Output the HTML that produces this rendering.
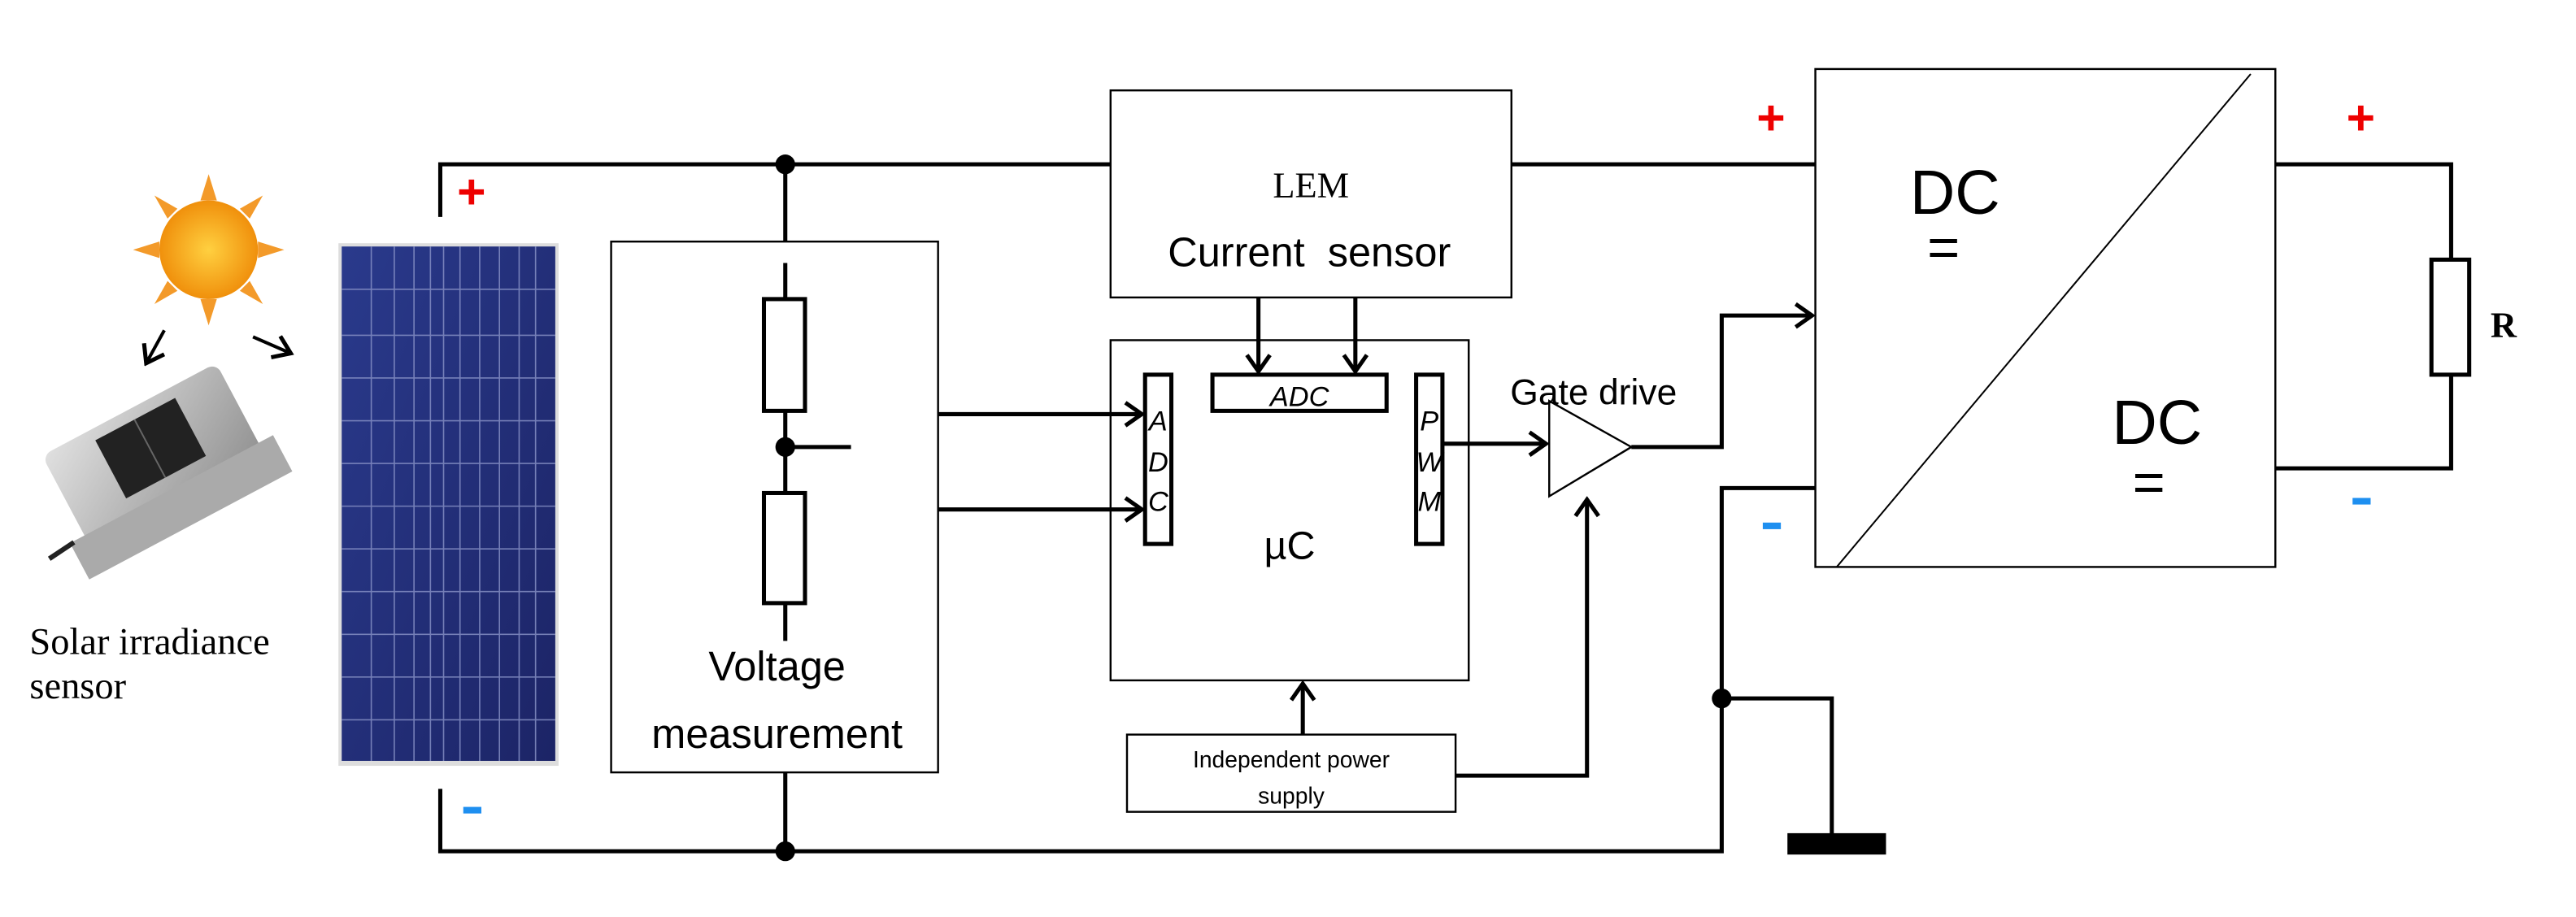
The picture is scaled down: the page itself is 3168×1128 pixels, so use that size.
<!DOCTYPE html>
<html><head><meta charset="utf-8"><style>html,body{margin:0;padding:0;background:#fff}svg{display:block}</style></head><body>
<svg width="3168" height="1128" viewBox="0 0 1568 558" preserveAspectRatio="none" xmlns="http://www.w3.org/2000/svg">
<defs>
<marker id="ar" markerWidth="14" markerHeight="16" refX="12" refY="8" orient="auto" markerUnits="userSpaceOnUse"><path d="M2,1 L12,8 L2,15" fill="none" stroke="#000" stroke-width="2.5"/></marker>
<linearGradient id="pg" x1="0" y1="0" x2="1" y2="1"><stop offset="0" stop-color="#2a3a8c"/><stop offset="1" stop-color="#1c2466"/></linearGradient>
<radialGradient id="sg"><stop offset="0" stop-color="#ffd040"/><stop offset="1" stop-color="#f0900c"/></radialGradient>
<linearGradient id="gg" x1="0" y1="0" x2="1" y2="1"><stop offset="0" stop-color="#e0e0e0"/><stop offset="1" stop-color="#8a8a8a"/></linearGradient>
</defs>
<g fill="#fff" stroke="#000" stroke-width="1.2">
<rect x="372" y="147" width="199" height="323"/>
<rect x="676" y="55" width="244" height="126"/>
<rect x="676" y="207" width="218" height="207"/>
<rect x="686" y="447" width="200" height="47"/>
<rect x="1105" y="42" width="280" height="303"/>
<path d="M943,244 V302 L993,272 Z"/>
</g>
<line x1="1370" y1="45" x2="1118" y2="345" stroke="#000" stroke-width="1"/>
<g fill="none" stroke="#000" stroke-width="2.5">
<path d="M268,132 V100 H676"/>
<path d="M920,100 H1105"/>
<path d="M268,480 V518 H1048 V297 H1105"/>
<path d="M478,100 V147 M478,470 V518"/>
<path d="M478,160 V182 M478,250 V300 M478,367 V390 M478,272 H518"/>
<path d="M1048,425 H1115 V508"/>
<path d="M1385,100 H1492 V158 M1492,228 V285 H1385"/>
<path d="M993,272 H1048 V192 H1103" marker-end="url(#ar)"/>
<path d="M571,252 H695" marker-end="url(#ar)"/>
<path d="M571,310 H695" marker-end="url(#ar)"/>
<path d="M766,181 V226" marker-end="url(#ar)"/>
<path d="M825,181 V226" marker-end="url(#ar)"/>
<path d="M878,270 H941" marker-end="url(#ar)"/>
<path d="M793,447 V416" marker-end="url(#ar)"/>
<path d="M886,472 H966 V304" marker-end="url(#ar)"/>
<path d="M100,201 L89,221" marker-end="url(#ar)" stroke-width="2"/>
<path d="M154,205 L177,215" marker-end="url(#ar)" stroke-width="2"/>
</g>
<g fill="#000"><circle cx="478" cy="100" r="6"/><circle cx="478" cy="272" r="6"/><circle cx="478" cy="518" r="6"/><circle cx="1048" cy="425" r="6"/>
<rect x="1088" y="507" width="60" height="13"/></g>
<g fill="#fff" stroke="#000" stroke-width="2.5">
<rect x="465" y="182" width="25" height="68"/><rect x="465" y="300" width="25" height="67"/>
<rect x="697" y="228" width="16" height="103"/><rect x="738" y="228" width="106" height="22"/><rect x="862" y="228" width="16" height="103"/>
<rect x="1480" y="158" width="23" height="70"/>
</g>
<!-- panel -->
<rect x="206" y="148" width="134" height="318" fill="#ddd"/>
<rect x="208" y="150" width="130" height="313" fill="url(#pg)"/>
<g stroke="#8a94c8" stroke-width="0.8" opacity="0.8">
<path d="M226,150V463M240,150V463M252,150V463M262,150V463M270,150V463M280,150V463M292,150V463M304,150V463M316,150V463M326,150V463"/>
<path d="M208,176H338M208,204H338M208,230H338M208,256H338M208,282H338M208,308H338M208,334H338M208,360H338M208,386H338M208,412H338M208,438H338"/>
</g>
<!-- sun -->
<g fill="#f39a2a"><polygon points="127,106 132,122 122,122"/><polygon points="127,198 132,182 122,182"/><polygon points="81,152 97,147 97,157"/><polygon points="173,152 157,147 157,157"/><polygon points="94,119 108,127 102,133"/><polygon points="160,119 146,127 152,133"/><polygon points="94,185 108,177 102,171"/><polygon points="160,185 146,177 152,171"/></g>
<circle cx="127" cy="152" r="30" fill="url(#sg)"/>
<!-- irradiance sensor -->
<g transform="rotate(-28 95 280)">
<rect x="35" y="245" width="120" height="75" rx="6" fill="url(#gg)"/>
<rect x="68" y="252" width="55" height="40" fill="#222"/>
<line x1="95" y1="252" x2="95" y2="292" stroke="#666"/>
<rect x="25" y="300" width="140" height="25" fill="#aaa"/>
</g>
<line x1="30" y1="340" x2="45" y2="330" stroke="#222" stroke-width="3"/>
<g font-family="Liberation Serif, serif" fill="#000">
<text x="18" y="398" font-size="23">Solar irradiance</text>
<text x="18" y="425" font-size="23">sensor</text>
<text x="798" y="120" font-size="22" text-anchor="middle">LEM</text>
<text x="1516" y="205" font-size="22" font-weight="bold">R</text>
</g>
<g font-family="Liberation Sans, sans-serif" fill="#000">
<text x="797" y="162" font-size="25" text-anchor="middle" xml:space="preserve">Current  sensor</text>
<text x="473" y="414" font-size="25" text-anchor="middle">Voltage</text>
<text x="473" y="455" font-size="25" text-anchor="middle">measurement</text>
<text x="785" y="340" font-size="24" text-anchor="middle">µC</text>
<text x="791" y="247" font-size="17" font-style="italic" text-anchor="middle">ADC</text>
<g font-size="17" font-style="italic" text-anchor="middle"><text x="705" y="262">A</text><text x="705" y="287">D</text><text x="705" y="311">C</text><text x="870" y="262">P</text><text x="870" y="287">W</text><text x="870" y="311">M</text></g>
<text x="970" y="246" font-size="22" text-anchor="middle">Gate drive</text>
<text x="786" y="467" font-size="14" text-anchor="middle">Independent power</text>
<text x="786" y="489" font-size="14" text-anchor="middle">supply</text>
<text x="1190" y="130" font-size="38" text-anchor="middle">DC</text>
<text x="1183" y="162" font-size="34" text-anchor="middle">=</text>
<text x="1313" y="270" font-size="38" text-anchor="middle">DC</text>
<text x="1308" y="305" font-size="34" text-anchor="middle">=</text>
</g>
<g font-family="Liberation Sans, sans-serif" font-size="30" font-weight="bold" text-anchor="middle">
<text x="287" y="127" fill="#e00">+</text><text x="1078" y="82" fill="#e00">+</text><text x="1437" y="82" fill="#e00">+</text>
</g>
<g fill="#1e8ff0"><rect x="282" y="491" width="11" height="4"/><rect x="1073" y="318" width="11" height="4"/><rect x="1432" y="303" width="11" height="4"/></g>
</svg>
</body></html>
